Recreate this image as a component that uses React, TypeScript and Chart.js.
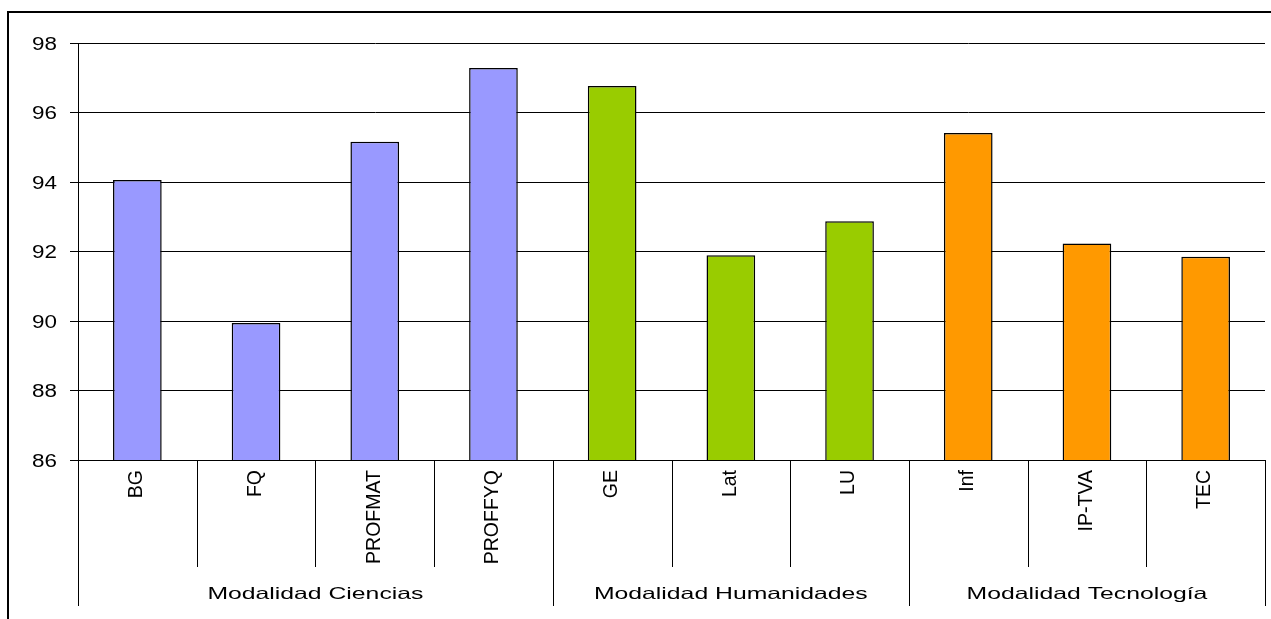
import React, { useEffect, useRef } from "react";
import { Chart, registerables } from "chart.js";

Chart.register(...registerables);

const categories = ["BG", "FQ", "PROFMAT", "PROFFYQ", "GE", "Lat", "LU", "Inf", "IP-TVA", "TEC"];
const values = [94.06, 89.94, 95.16, 97.28, 96.76, 91.89, 92.87, 95.41, 92.23, 91.85];
const groups = ["Modalidad Ciencias", "Modalidad Humanidades", "Modalidad Tecnología"];
const groupSizes = [4, 3, 3];
const groupColors = ["#9999FF", "#99CC00", "#FF9900"];
const yTickLabels = ["86", "88", "90", "92", "94", "96", "98"];

const W = 1271;
const H = 619;
const FONT = '"Liberation Sans", Arial, sans-serif';

function barColors(): string[] {
  const out: string[] = [];
  groupSizes.forEach((n, g) => {
    for (let i = 0; i < n; i++) out.push(groupColors[g]);
  });
  return out;
}

function stretchedText(
  ctx: CanvasRenderingContext2D,
  text: string,
  x: number,
  y: number,
  sx: number,
  align: CanvasTextAlign
) {
  ctx.save();
  ctx.translate(x, y);
  ctx.scale(sx, 1);
  ctx.textAlign = align;
  ctx.textBaseline = "alphabetic";
  ctx.fillText(text, 0, 0);
  ctx.restore();
}

const decorPlugin = {
  id: "decor",
  afterDraw(chart: any) {
    const ctx: CanvasRenderingContext2D = chart.ctx;
    const x = chart.scales.x;
    const y = chart.scales.y;
    const area = chart.chartArea;
    ctx.save();
    ctx.fillStyle = "#000";

    // y tick labels
    ctx.font = `17.5px ${FONT}`;
    yTickLabels.forEach((t) => {
      const py = y.getPixelForValue(Number(t));
      stretchedText(ctx, t, 57, py + 6.5, 1.28, "right");
    });

    // category separators & group separators
    const n = categories.length;
    const step = (area.right - area.left) / n;
    const groupBounds = new Set<number>([0]);
    let acc = 0;
    groupSizes.forEach((s) => {
      acc += s;
      groupBounds.add(acc);
    });
    ctx.strokeStyle = "#000";
    ctx.lineWidth = 1;
    for (let i = 0; i <= n; i++) {
      const px = Math.round(area.left + i * step) + 0.5;
      const yEnd = groupBounds.has(i) ? 606 : 567;
      ctx.beginPath();
      ctx.moveTo(px, area.bottom);
      ctx.lineTo(px, yEnd);
      ctx.stroke();
    }

    // rotated category labels
    ctx.font = `19.5px ${FONT}`;
    categories.forEach((c, i) => {
      const cx = x.getPixelForValue(i);
      ctx.save();
      ctx.translate(cx - 1, area.bottom + 10);
      ctx.rotate(-Math.PI / 2);
      ctx.scale(1, 1.08);
      ctx.textAlign = "right";
      ctx.textBaseline = "middle";
      ctx.fillText(c, 0, 0);
      ctx.restore();
    });

    // group labels
    ctx.font = `16.5px ${FONT}`;
    let start = 0;
    groups.forEach((g, gi) => {
      const end = start + groupSizes[gi];
      const cx = area.left + ((start + end) / 2) * step;
      stretchedText(ctx, g, cx, 599, 1.5, "center");
      start = end;
    });

    // outer frame (left & top visible)
    ctx.lineWidth = 2;
    ctx.beginPath();
    ctx.moveTo(8, H + 5);
    ctx.lineTo(8, 12);
    ctx.lineTo(W + 5, 12);
    ctx.stroke();
    ctx.restore();
  },
};

export default function App() {
  const ref = useRef<HTMLCanvasElement>(null);
  useEffect(() => {
    if (!ref.current) return;
    const ticks = yTickLabels.map(Number);
    const chart = new Chart(ref.current, {
      type: "bar",
      data: {
        labels: categories,
        datasets: [
          {
            data: values,
            backgroundColor: barColors(),
            borderColor: "#000",
            borderWidth: 1.5,
            borderSkipped: false,
            categoryPercentage: 0.41,
            barPercentage: 1,
          },
        ],
      },
      plugins: [decorPlugin],
      options: {
        responsive: false,
        animation: false,
        devicePixelRatio: 1,
        layout: { padding: { top: 43, right: 6, bottom: 0, left: 0 } },
        plugins: { legend: { display: false }, tooltip: { enabled: false } },
        scales: {
          x: {
            ticks: { display: false },
            grid: { display: false, drawTicks: false },
            border: { display: true, color: "#000", width: 1 },
            afterFit: (s: any) => {
              s.height = 159;
            },
          },
          y: {
            min: ticks[0],
            max: ticks[ticks.length - 1],
            ticks: { display: false, stepSize: 2 },
            grid: { color: "#000", lineWidth: 1, drawTicks: true, tickLength: 8 },
            border: { display: true, color: "#000", width: 1 },
            afterFit: (s: any) => {
              s.width = 78;
            },
          },
        },
      },
    });
    return () => chart.destroy();
  }, []);
  return (
    <div
      style={{
        position: "fixed",
        left: 0,
        top: 0,
        width: W,
        height: H,
        overflow: "hidden",
        background: "#fff",
      }}
    >
      <canvas ref={ref} width={W} height={H} style={{ display: "block", width: W, height: H }} />
    </div>
  );
}
